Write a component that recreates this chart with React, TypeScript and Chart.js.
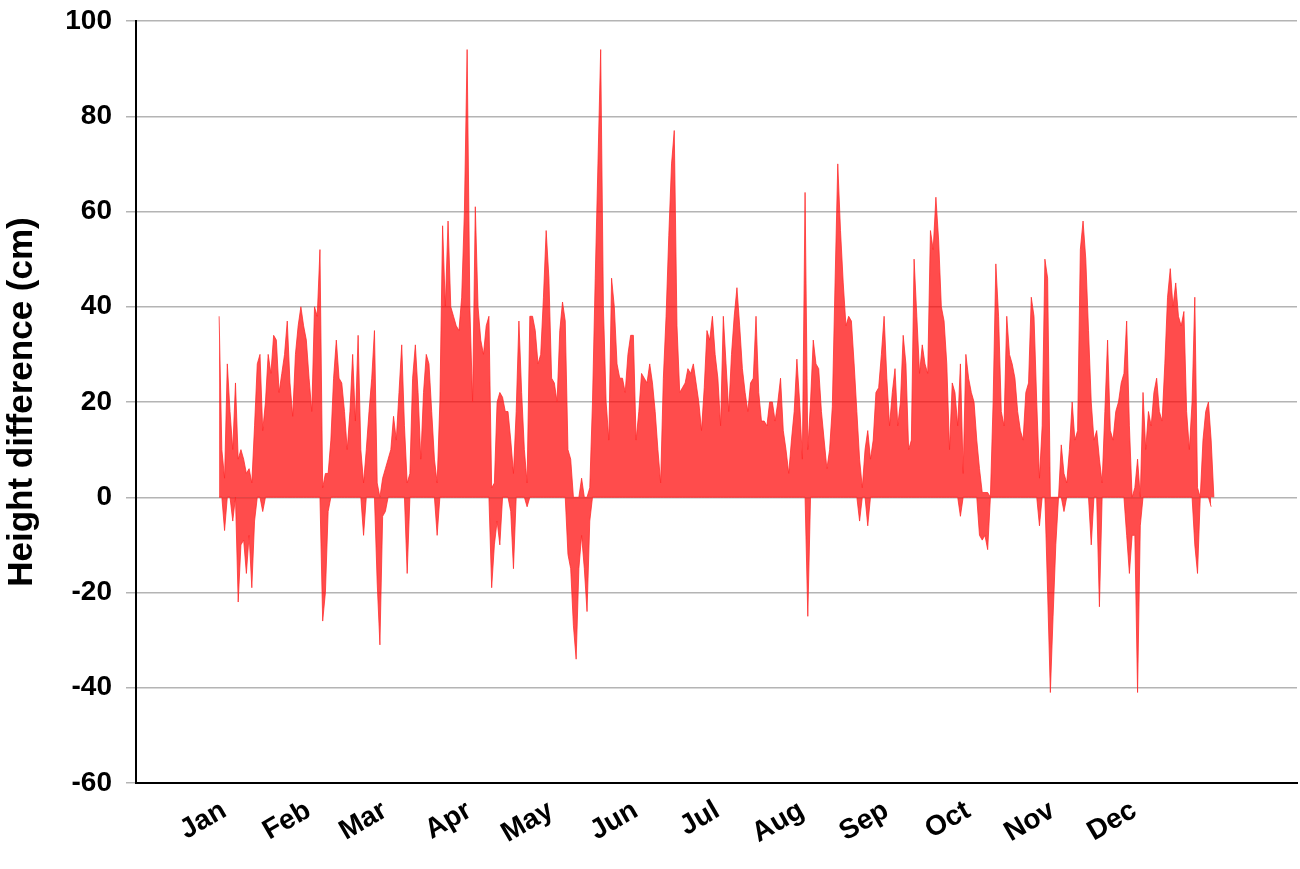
import React, { useEffect, useRef } from "react";
import { Chart, registerables } from "chart.js";

Chart.register(...registerables);

// Month start positions (day of year) and labels
const monthStarts = [0, 31, 59, 90, 120, 151, 181, 212, 243, 273, 304, 334];
const monthLabels = ["Jan", "Feb", "Mar", "Apr", "May", "Jun", "Jul", "Aug", "Sep", "Oct", "Nov", "Dec"];

// Y axis ticks
const yMin = -60;
const yMax = 100;
const yStep = 20;

// Daily upper envelope of height difference (cm), day 0 = 1 Jan
const dayUpper = [
  38, 10, 4, 28, 18, 10, 24, 8, 10, 8, 5, 6, 3, 15, 28, 30, 14, 20, 30, 26, 34, 33, 22, 26, 30, 37, 24, 17, 30, 36, 40,
  36, 33, 25, 18, 40, 38, 52, 2, 5, 5, 12, 25, 33, 25, 24, 18, 10, 18, 30, 16, 34, 10, 3, 10, 18, 25, 35, 3,
  0, 4, 6, 8, 10, 17, 12, 22, 32, 15, 3, 5, 25, 32, 22, 8, 22, 30, 28, 18, 8, 3, 20, 57, 40, 58, 40, 38, 36, 35, 42,
  60, 94, 40, 20, 61, 40, 33, 30, 36, 38, 2, 3, 20, 22, 21, 18, 18, 12, 5, 18, 37, 22, 10, 3, 38, 38, 35, 28, 30, 42,
  56, 46, 25, 24, 20, 35, 41, 37, 10, 8, 0, 0, 0, 4, 0, 0, 2, 20, 46, 70, 94, 40, 20, 12, 46, 40, 28, 25, 25, 22, 30,
  34, 34, 12, 18, 26, 25, 24, 28, 24, 18, 10, 3, 25, 38, 55, 70, 77, 36, 22, 23, 24, 27, 26, 28, 24, 20, 14, 23, 35, 33,
  38, 30, 25, 15, 38, 28, 18, 30, 38, 44, 36, 27, 22, 18, 24, 25, 38, 22, 16, 16, 15, 20, 20, 16, 20, 25, 14, 10, 5, 12, 18,
  29, 20, 8, 64, 10, 20, 33, 28, 27, 18, 12, 6, 10, 19, 45, 70, 56, 45, 36, 38, 37, 28, 18, 8, 2, 10, 14, 8, 12, 22,
  23, 30, 38, 25, 15, 22, 27, 15, 20, 34, 28, 10, 12, 50, 38, 26, 32, 28, 26, 56, 52, 63, 54, 40, 37, 28, 10, 24, 22, 15, 28,
  5, 30, 25, 22, 20, 12, 6, 1, 1, 1, 0, 20, 49, 38, 18, 15, 38, 30, 28, 25, 18, 14, 12, 22, 24, 42, 38, 20, 4, 15, 50,
  46, 0, 0, 0, 0, 11, 5, 3, 10, 20, 12, 14, 52, 58, 50, 35, 20, 12, 14, 8, 3, 18, 33, 14, 12, 18, 20, 24, 26, 37,
  15, 0, 2, 8, 0, 22, 10, 18, 15, 22, 25, 18, 16, 28, 42, 48, 40, 45, 38, 36, 39, 18, 10, 20, 42, 2, 0, 12, 18, 20, 12, 0,
];

// Daily lower envelope (negative dips), day 0 = 1 Jan
const dayLower = [
  0, 0, -7, 0, 0, -5, 0, -22, -10, -9, -16, -8, -19, -5, 0, 0, -3, 0, 0, 0, 0, 0, 0, 0, 0, 0, 0, 0, 0, 0, 0,
  0, 0, 0, 0, 0, 0, 0, -26, -20, -3, 0, 0, 0, 0, 0, 0, 0, 0, 0, 0, 0, 0, -8, 0, 0, 0, 0, -18,
  -31, -4, -3, 0, 0, 0, 0, 0, 0, 0, -16, 0, 0, 0, 0, 0, 0, 0, 0, 0, 0, -8, 0, 0, 0, 0, 0, 0, 0, 0, 0,
  0, 0, 0, 0, 0, 0, 0, 0, 0, 0, -19, -10, -5, -10, 0, 0, 0, -3, -15, 0, 0, 0, 0, -2, 0, 0, 0, 0, 0, 0,
  0, 0, 0, 0, 0, 0, 0, 0, -12, -15, -27, -34, -15, -8, -15, -24, -5, 0, 0, 0, 0, 0, 0, 0, 0, 0, 0, 0, 0, 0, 0,
  0, 0, 0, 0, 0, 0, 0, 0, 0, 0, 0, 0, 0, 0, 0, 0, 0, 0, 0, 0, 0, 0, 0, 0, 0, 0, 0, 0, 0, 0, 0,
  0, 0, 0, 0, 0, 0, 0, 0, 0, 0, 0, 0, 0, 0, 0, 0, 0, 0, 0, 0, 0, 0, 0, 0, 0, 0, 0, 0, 0, 0, 0,
  0, 0, 0, -25, 0, 0, 0, 0, 0, 0, 0, 0, 0, 0, 0, 0, 0, 0, 0, 0, 0, 0, -5, 0, 0, -6, 0, 0,
  0, 0, 0, 0, 0, 0, 0, 0, 0, 0, 0, 0, 0, 0, 0, 0, 0, 0, 0, 0, 0, 0, 0, 0, 0, 0, 0, 0, 0, 0, 0,
  -4, 0, 0, 0, 0, 0, 0, -8, -9, -8, -11, 0, 0, 0, 0, 0, 0, 0, 0, 0, 0, 0, 0, 0, 0, 0, 0, 0, 0, -6, 0,
  0, -20, -41, -25, -10, 0, 0, -3, 0, 0, 0, 0, 0, 0, 0, 0, 0, -10, 0, 0, -23, 0, 0, 0, 0, 0, 0, 0, 0, 0,
  -8, -16, -8, -8, -41, -6, 0, 0, 0, 0, 0, 0, 0, 0, 0, 0, 0, 0, 0, 0, 0, 0, 0, 0, 0, -10, -16, 0, 0, 0, 0, -2,
];

const FONT = "'Liberation Sans', Arial, sans-serif";
const RED_FILL = "rgba(255, 0, 0, 0.70)";
const RED_LINE = "rgba(255, 40, 40, 0.75)";

export default function App() {
  const ref = useRef<HTMLCanvasElement | null>(null);

  useEffect(() => {
    if (!ref.current) return;
    const chart = new Chart(ref.current, {
      type: "line",
      data: {
        datasets: [
          {
            label: "upper",
            data: dayUpper.map((v, i) => ({ x: i, y: v })),
            borderColor: RED_LINE,
            backgroundColor: RED_FILL,
            borderWidth: 1,
            pointRadius: 0,
            fill: "origin",
            tension: 0,
          },
          {
            label: "lower",
            data: dayLower.map((v, i) => ({ x: i, y: v })),
            borderColor: RED_LINE,
            backgroundColor: RED_FILL,
            borderWidth: 1,
            pointRadius: 0,
            fill: "origin",
            tension: 0,
          },
        ],
      },
      options: {
        responsive: false,
        animation: false,
        events: [],
        layout: { padding: { top: 21, right: 3, left: 0, bottom: 0 } },
        plugins: { legend: { display: false }, tooltip: { enabled: false } },
        scales: {
          x: {
            type: "linear",
            min: -30.5,
            max: 395.5,
            afterFit: (s: any) => {
              s.height = 86;
            },
            afterBuildTicks: (s: any) => {
              s.ticks = monthStarts.map((v) => ({ value: v }));
            },
            ticks: {
              autoSkip: false,
              minRotation: 30,
              maxRotation: 30,
              padding: 5,
              labelOffset: 5,
              color: "#000",
              font: { family: FONT, size: 28, weight: "bold" },
              callback: (v: any) => {
                const idx = monthStarts.indexOf(Number(v));
                return idx >= 0 ? monthLabels[idx] : "";
              },
            },
            grid: { display: true, drawOnChartArea: false, drawTicks: true, tickLength: 6, color: "rgba(0,0,0,0)" },
            border: { display: true, color: "#000", width: 2 },
          },
          y: {
            min: yMin,
            max: yMax,
            afterFit: (s: any) => {
              s.width = 136;
              s.paddingTop = 0;
              s.paddingBottom = 0;
            },
            ticks: {
              stepSize: yStep,
              padding: 14,
              color: "#000",
              font: { family: FONT, size: 28, weight: "bold" },
            },
            grid: { color: "#b4b4b4", lineWidth: 1.5, tickLength: 10 },
            border: { display: true, color: "#000", width: 2 },
            title: {
              display: true,
              text: "Height difference (cm)",
              color: "#000",
              font: { family: FONT, size: 35, weight: "bold" },
              padding: { top: 1, bottom: 0 },
            },
          },
        },
      },
    });
    return () => chart.destroy();
  }, []);

  return (
    <div style={{ position: "absolute", left: 0, top: 0, width: 1300, height: 869 }}>
      <canvas ref={ref} width={1300} height={869} style={{ display: "block" }} />
    </div>
  );
}
